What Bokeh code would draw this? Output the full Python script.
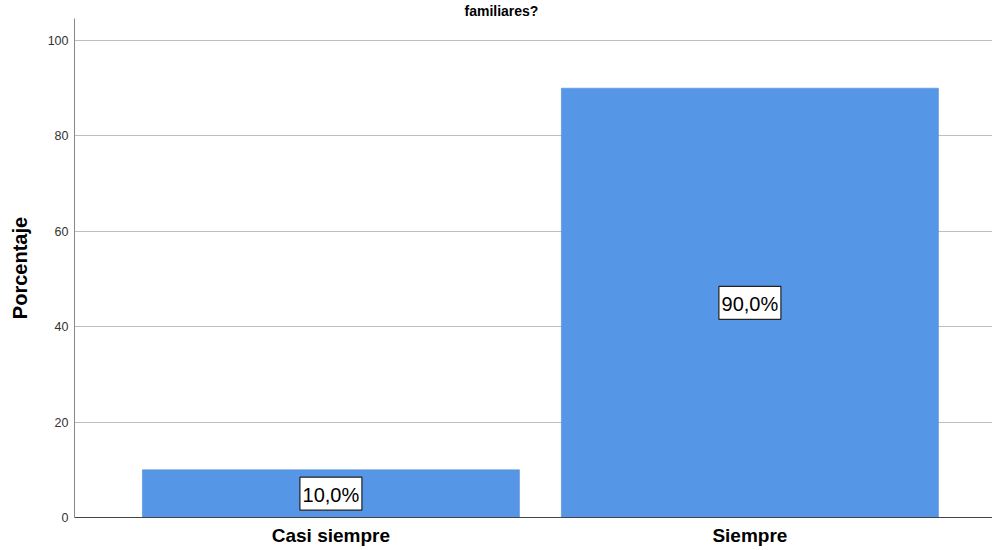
from bokeh.plotting import figure
from bokeh.models import Range1d, ColumnDataSource, FixedTicker
from bokeh.core.properties import value
from bokeh.embed import file_html
from bokeh.resources import INLINE

categories = ["Casi siempre", "Siempre"]
percentages = [10.0, 90.0]
y_ticks = [0, 20, 40, 60, 80, 100]
title_tail = "familiares?"
y_title = "Porcentaje"

FONT = "Liberation Sans"
idx = list(range(len(categories)))
src = ColumnDataSource(dict(
    x=idx,
    top=percentages,
    mid=[v / 2 for v in percentages],
    lab=[f"{v:.1f}%".replace(".", ",") for v in percentages],
))

p = figure(width=992, height=550, output_backend="svg", toolbar_location=None,
           x_range=Range1d(-0.612, 1.579), y_range=Range1d(0, 104.6),
           min_border_left=74, min_border_right=0, min_border_top=15, min_border_bottom=33)
p.outline_line_color = None
p.background_fill_color = "white"
p.border_fill_color = "white"

p.title.text = title_tail
p.title.align = "left"
p.title.offset = 390
p.title.standoff = 0
p.title.text_font = FONT
p.title.text_font_style = "bold"
p.title.text_font_size = "14px"
p.title.text_color = "black"

p.vbar(x="x", top="top", width=0.9, bottom=0, source=src,
       fill_color="#5596E6", line_color="#4A86CF", line_width=0.5)

p.rect(x="x", y="mid", width=62, height=33, width_units="screen", height_units="screen",
       source=src, fill_color="white", line_color="#222222", line_width=1.2)
p.text(x="x", y="mid", text="lab", source=src, text_align="center", text_baseline="middle",
       text_font=value(FONT), text_font_size=value("20px"), text_color="black", y_offset=1)

p.xgrid.grid_line_color = None
p.ygrid.grid_line_color = "#BEBEBE"
p.ygrid.grid_line_width = 1

p.yaxis.ticker = FixedTicker(ticks=y_ticks)
p.yaxis.axis_label = y_title
p.yaxis.axis_label_text_font = FONT
p.yaxis.axis_label_text_font_style = "bold"
p.yaxis.axis_label_text_font_size = "20px"
p.yaxis.axis_label_text_color = "black"
p.yaxis.axis_label_standoff = 14
p.yaxis.major_label_text_font = FONT
p.yaxis.major_label_text_font_size = "12.5px"
p.yaxis.major_label_text_color = "#333333"
p.yaxis.axis_line_color = "#888888"
p.yaxis.major_tick_line_color = None
p.yaxis.major_tick_out = 0
p.yaxis.major_tick_in = 0
p.yaxis.minor_tick_line_color = None
p.yaxis.major_label_standoff = 6

p.xaxis.ticker = FixedTicker(ticks=idx)
p.xaxis.major_label_overrides = {i: c for i, c in zip(idx, categories)}
p.xaxis.major_label_text_font = FONT
p.xaxis.major_label_text_font_style = "bold"
p.xaxis.major_label_text_font_size = "19px"
p.xaxis.major_label_text_color = "black"
p.xaxis.axis_line_color = "#444444"
p.xaxis.major_tick_line_color = None
p.xaxis.major_tick_out = 0
p.xaxis.major_tick_in = 0
p.xaxis.minor_tick_line_color = None
p.xaxis.major_label_standoff = 7

open("out.html", "w").write(file_html(p, INLINE))
